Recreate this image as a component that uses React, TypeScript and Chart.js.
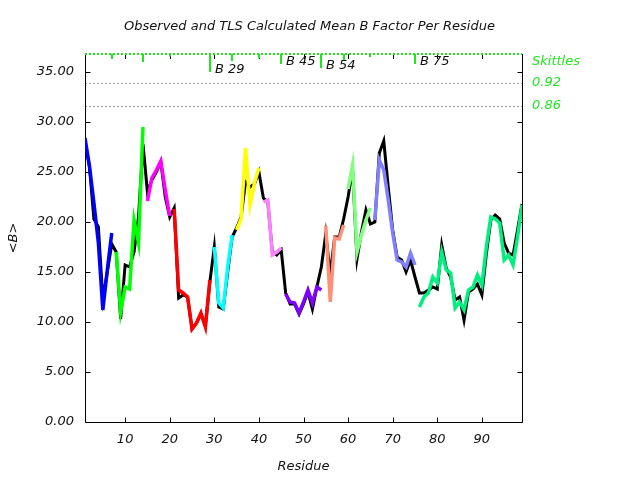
import React, { useEffect, useRef } from "react";
import { Chart, registerables } from "chart.js";

Chart.register(...registerables);

// ---------------- data ----------------
const observedB = [
  28.0, 25.5, 20.3, 19.5, 12.3, 15.0, 17.8, 17.0, 10.3, 15.7,
  15.5, 17.0, 20.5, 27.8, 23.0, 24.2, 25.0, 26.0, 22.5, 20.5,
  21.4, 12.4, 12.7, 12.5, 9.3, 9.9, 10.8, 9.6, 14.0, 17.5,
  11.5, 11.3, 15.0, 18.5, 19.4, 20.5, 24.0, 23.5, 23.8, 25.0,
  22.4, 22.0, 17.0, 16.7, 17.2, 12.9, 11.8, 11.8, 10.8, 11.8,
  13.0, 11.3, 13.5, 15.5, 18.8, 14.8, 18.5, 18.5, 20.3, 22.5,
  25.3, 16.3, 19.0, 21.2, 19.8, 20.0, 26.9, 28.1, 23.5, 19.2,
  16.5, 16.2, 15.0, 16.2, 14.5, 12.9, 12.9, 13.2, 13.5, 13.3,
  17.7, 15.4, 14.5, 12.2, 12.5, 10.2, 13.0, 13.3, 13.8, 12.7,
  16.8, 20.2, 20.7, 20.3, 17.9, 16.9, 16.7, 19.2, 21.8,
];

const tlsCalcB = [
  28.4, 25.6, 21.9, 17.9, 11.2, 15.2, 18.9, 17.0, 11.0, 13.5,
  13.3, 20.2, 17.9, 29.5, 22.1, 24.4, 25.2, 26.1, 23.2, 20.6,
  21.3, 13.2, 12.9, 12.5, 9.3, 9.9, 10.9, 9.5, 14.2, 17.5,
  11.9, 11.4, 15.5, 18.7, 19.2, 20.3, 27.4, 21.7, 23.9, 25.4,
  22.0, 22.2, 16.7, 17.0, 17.4, 12.8, 12.0, 11.9, 10.9, 12.0,
  13.2, 11.9, 13.5, 13.2, 19.6, 12.0, 18.4, 18.3, 19.7, 23.3,
  25.7, 17.0, 18.7, 20.2, 21.4, 20.2, 26.2, 25.2, 22.2, 18.9,
  16.2, 16.0, 15.5, 16.9, 15.7, 11.5, 12.5, 12.9, 14.5, 13.9,
  17.0, 15.2, 14.9, 11.4, 12.0, 11.2, 13.2, 13.5, 14.7, 13.7,
  17.5, 20.5, 20.3, 19.9, 16.2, 16.7, 15.7, 18.5, 21.7,
];

const firstResidue = 1;

// last residue of each TLS group
const groupEnds = [7, 14, 20, 29, 34, 40, 45, 54, 59, 65, 75, 99];
const groupColors = [
  "#0000ff", "#00ff00", "#ff00ff", "#ff0000", "#00ffff", "#ffff00",
  "#ff80ff", "#8000ff", "#ff9078", "#80ff80", "#8080ff", "#00f080",
];

// skittles markers hanging from the top (one per group boundary)
const markerResidues = [7, 14, 20, 29, 34, 40, 45, 54, 59, 65, 75];
const markerLengths = [0.5, 0.8, 0.25, 1.8, 0.7, 0.45, 1.0, 1.4, 0.6, 0.3, 1.0];
const markerLabels = ["", "", "", "B 29", "", "", "B 45", "B 54", "", "", "B 75"];

// right-hand skittles scale
const skittlesPositions = [36.06, 33.9, 31.6];
const skittlesLabels = ["Skittles", "0.92", "0.86"];
const skittlesDotted = [33.9, 31.6];

const xTicks = [10, 20, 30, 40, 50, 60, 70, 80, 90];
const yTicks = [0, 5, 10, 15, 20, 25, 30, 35];
const X_MIN = 1;
const X_MAX = 99;
const Y_MIN = 0;
const Y_MAX = 36.8;

const TITLE = "Observed and TLS Calculated Mean B Factor Per Residue";
const FONT = "'DejaVu Sans', Verdana, sans-serif";
const GREEN = "#1ee61e";

const decorPlugin = {
  id: "decor",
  beforeDatasetsDraw(chart: any) {
    const { ctx, chartArea: a, scales } = chart;
    const xs = scales.x;
    const ys = scales.y;
    ctx.save();
    // dotted skittles reference lines
    ctx.strokeStyle = "#9a9a9a";
    ctx.lineWidth = 1;
    ctx.setLineDash([2, 2]);
    for (const v of skittlesDotted) {
      const py = Math.round(ys.getPixelForValue(v)) + 0.5;
      ctx.beginPath();
      ctx.moveTo(a.left, py);
      ctx.lineTo(a.right, py);
      ctx.stroke();
    }
    ctx.setLineDash([]);
    // frame (left, bottom, right)
    ctx.strokeStyle = "#000";
    ctx.lineWidth = 1;
    const L = Math.round(a.left) + 0.5;
    const R = Math.round(a.right) + 0.5;
    const T = Math.round(a.top);
    const B = Math.round(a.bottom) + 0.5;
    ctx.beginPath();
    ctx.moveTo(L, T);
    ctx.lineTo(L, B);
    ctx.lineTo(R, B);
    ctx.lineTo(R, T);
    ctx.stroke();
    // inward ticks
    ctx.beginPath();
    for (const v of yTicks) {
      const py = Math.round(ys.getPixelForValue(v)) + 0.5;
      ctx.moveTo(L, py);
      ctx.lineTo(L + 5, py);
      ctx.moveTo(R, py);
      ctx.lineTo(R - 5, py);
    }
    for (const v of xTicks) {
      const px = Math.round(xs.getPixelForValue(v)) + 0.5;
      ctx.moveTo(px, B);
      ctx.lineTo(px, B - 5);
      ctx.moveTo(px, T);
      ctx.lineTo(px, T + 5);
    }
    ctx.stroke();
    // green dotted top border
    ctx.strokeStyle = GREEN;
    ctx.lineWidth = 2;
    ctx.setLineDash([2, 2]);
    ctx.beginPath();
    ctx.moveTo(a.left, T);
    ctx.lineTo(a.right, T);
    ctx.stroke();
    ctx.setLineDash([]);
    ctx.restore();
  },
  afterDatasetsDraw(chart: any) {
    const { ctx, scales } = chart;
    const xs = scales.x;
    const ys = scales.y;
    ctx.save();
    // skittles markers
    ctx.strokeStyle = GREEN;
    ctx.lineWidth = 2;
    const yTop = ys.getPixelForValue(Y_MAX);
    markerResidues.forEach((r, i) => {
      const px = Math.round(xs.getPixelForValue(r));
      const yEnd = ys.getPixelForValue(Y_MAX - markerLengths[i]);
      ctx.beginPath();
      ctx.moveTo(px, yTop);
      ctx.lineTo(px, yEnd);
      ctx.stroke();
      if (markerLabels[i]) {
        ctx.fillStyle = "#111";
        ctx.font = `italic 13px ${FONT}`;
        ctx.textAlign = "left";
        ctx.textBaseline = "middle";
        ctx.fillText(markerLabels[i], px + 5, yEnd - 2);
      }
    });
    // title
    ctx.fillStyle = "#111";
    ctx.font = `italic 13px ${FONT}`;
    ctx.textAlign = "center";
    ctx.textBaseline = "middle";
    ctx.fillText(TITLE, 309.5, 27);
    ctx.restore();
  },
};

export default function App() {
  const canvasRef = useRef<HTMLCanvasElement | null>(null);

  useEffect(() => {
    const canvas = canvasRef.current;
    if (!canvas) return;

    const residues = observedB.map((_, i) => firstResidue + i);
    const datasets: any[] = [];
    let start = firstResidue;
    groupEnds.forEach((end, g) => {
      const pts = [];
      for (let r = start; r <= end; r++) {
        pts.push({ x: r, y: tlsCalcB[r - firstResidue] });
      }
      datasets.push({
        label: `TLS group ${g + 1}`,
        data: pts,
        borderColor: groupColors[g],
        backgroundColor: groupColors[g],
        borderWidth: 3.5,
        pointRadius: 0,
        tension: 0,
        order: 0,
      });
      start = end + 1;
    });
    datasets.push({
      label: "Observed",
      data: residues.map((r, i) => ({ x: r, y: observedB[i] })),
      borderColor: "#000000",
      backgroundColor: "#000000",
      borderWidth: 3,
      pointRadius: 0,
      tension: 0,
      order: 1,
    });

    const tickFont = { family: FONT, size: 13, style: "italic" as const };

    const chart = new Chart(canvas, {
      type: "line",
      data: { datasets },
      options: {
        animation: false,
        responsive: false,
        maintainAspectRatio: false,
        layout: { padding: { top: 54, left: 0, right: 0, bottom: 0 } },
        plugins: {
          legend: { display: false },
          tooltip: { enabled: false },
          title: { display: false },
        },
        scales: {
          x: {
            type: "linear",
            min: X_MIN,
            max: X_MAX,
            afterFit: (s: any) => {
              s.height = 58;
            },
            afterBuildTicks: (s: any) => {
              s.ticks = xTicks.map((v) => ({ value: v }));
            },
            ticks: {
              color: "#111",
              font: tickFont,
              padding: 10,
              maxRotation: 0,
              callback: (v: any) => String(v),
            },
            grid: { display: false, drawTicks: false },
            border: { display: false },
            title: {
              display: true,
              text: "Residue",
              color: "#111",
              font: tickFont,
              padding: { top: 0, bottom: 6 },
            },
          },
          y: {
            type: "linear",
            position: "left",
            min: Y_MIN,
            max: Y_MAX,
            afterFit: (s: any) => {
              s.width = 85;
            },
            afterBuildTicks: (s: any) => {
              s.ticks = yTicks.map((v) => ({ value: v }));
            },
            ticks: {
              color: "#111",
              font: tickFont,
              padding: 11,
              callback: (v: any) => Number(v).toFixed(2),
            },
            grid: { display: false, drawTicks: false },
            border: { display: false },
            title: {
              display: true,
              text: "<B>",
              color: "#111",
              font: tickFont,
              padding: { top: 6, bottom: 0 },
            },
          },
          y2: {
            type: "linear",
            position: "right",
            min: Y_MIN,
            max: Y_MAX,
            afterFit: (s: any) => {
              s.width = 118;
            },
            afterBuildTicks: (s: any) => {
              s.ticks = skittlesPositions.map((v) => ({ value: v }));
            },
            ticks: {
              color: GREEN,
              font: tickFont,
              padding: 10,
              callback: (_v: any, i: number) => skittlesLabels[i],
            },
            grid: { display: false, drawTicks: false },
            border: { display: false },
          },
        },
      },
      plugins: [decorPlugin],
    });

    return () => chart.destroy();
  }, []);

  return (
    <div style={{ position: "fixed", left: 0, top: 0, width: 640, height: 480, background: "#fff" }}>
      <canvas ref={canvasRef} width={640} height={480} />
    </div>
  );
}
